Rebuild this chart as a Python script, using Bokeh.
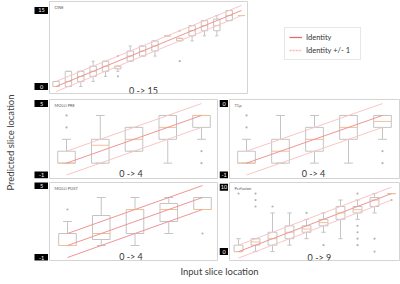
import math
from bokeh.plotting import figure
from bokeh.models import Range1d, Label, Legend, LegendItem, ColumnDataSource
from bokeh.core.properties import value
from bokeh.layouts import row, column
from bokeh.embed import file_html
from bokeh.resources import INLINE

# ---------------- data ----------------
# CINE: input slice 0 -> 15
CINE_Q1 = [0, 0, 1, 2, 3, 3.5, 5, 6, 7, 10, 9, 10, 11, 11, 13, 14]
CINE_MED = [0, 1, 2, 3, 4, 4, 6, 7, 8, 10, 9.5, 11, 12, 12, 14, 14]
CINE_Q3 = [1, 3, 3, 4, 5, 4, 7, 8, 9, 10, 9.5, 12, 13, 13.3, 15, 14]
CINE_LO = [0, 0, 0, 1, 2, 3, 5, 6, 6, 10, 9, 9, 10, 10, 13, 14]
CINE_HI = [1, 3, 3, 5, 5, 4, 8, 8, 9, 10, 9.5, 12, 13, 14, 15, 14]
CINE_OUT_X = [5, 5, 10, 10]
CINE_OUT_Y = [2, 6, 5, 11]

# MOLLI PRE: 0 -> 4
PRE_Q1 = [0, 0, 1, 2, 3]
PRE_MED = [0, 1.5, 2, 3, 4]
PRE_Q3 = [1, 2, 3, 4, 4]
PRE_LO = [0, 0, 1, 0, 2]
PRE_HI = [2, 4, 3, 4, 4]
PRE_OUT_X = [0, 0, 4, 4]
PRE_OUT_Y = [3, 4, 1, 0]

# T1rho: 0 -> 4
T1P_Q1 = [0, 0, 1, 2, 3]
T1P_MED = [0, 1, 2, 3, 3.5]
T1P_Q3 = [1, 2, 3, 4, 4]
T1P_LO = [0, 0, 0, 0, 2]
T1P_HI = [2, 4, 4, 4, 4]
T1P_OUT_X = [0, 0, 4, 4]
T1P_OUT_Y = [3, 4, 1, 0]

# MOLLI POST: 0 -> 4
POST_Q1 = [0, 0.5, 1, 2, 3]
POST_MED = [0, 1, 3, 3, 3]
POST_Q3 = [1, 2.5, 3, 3.5, 4]
POST_LO = [0, 0, 0, 1, 3]
POST_HI = [2, 4, 4, 4, 4]
POST_OUT_X = [0, 4]
POST_OUT_Y = [3, 1]

# Perfusion: 0 -> 9
PERF_Q1 = [0, 1, 1, 2, 3, 4, 5, 6, 7, 9]
PERF_MED = [0, 1.5, 2, 3, 3.5, 4.5, 6, 6.5, 8, 9]
PERF_Q3 = [1, 2, 3, 4, 4, 5, 7, 7, 8.4, 9]
PERF_LO = [0, 0, 0, 1, 2, 3, 2, 5, 6, 9]
PERF_HI = [2, 2, 6, 6, 5, 6, 8, 8, 9, 9]
PERF_OUT_X = [0, 1, 1, 1, 2, 4, 5, 7, 7, 7, 7, 7, 8, 8, 9]
PERF_OUT_Y = [9, 7, 8, 9, 7, 6, 1, 9, 4, 3, 2, 1, 2, 0, 8]

# black value tags at the left of each panel (value, text)
CINE_TAG_Y = [15, 0]
CINE_TAG_TXT = ["15", "0"]
PRE_TAG_Y = [5, -1]
PRE_TAG_TXT = ["5", "-1"]
T1P_TAG_Y = [5, -1]
T1P_TAG_TXT = ["0", "-1"]
POST_TAG_Y = [5, -1]
POST_TAG_TXT = ["5", "-1"]
PERF_TAG_Y = [10, 0]
PERF_TAG_TXT = ["10", "0"]

TITLES = ["CINE", "MOLLI PRE", "T1ρ", "MOLLI POST", "Perfusion"]
RANGE_TEXT = ["0 -> 15", "0 -> 4", "0 -> 4", "0 -> 4", "0 -> 9"]
LEGEND_LABELS = ["Identity", "Identity +/- 1"]
Y_TITLE = "Predicted slice location"
X_TITLE = "Input slice location"

# ---------------- style ----------------
FONT = "Lato"
BOX = "#c4c4c4"
MED = "#f5bf95"
OUT = "#b4b4b4"
ID_C = "#f09494"
PM_C = "#f8c6c6"
FRAME = "#d4d4d4"


def bare(width, height, bl, br, bt, bb, xr, yr):
    p = figure(width=width, height=height, x_range=xr, y_range=yr,
               output_backend="svg", toolbar_location=None,
               x_axis_location=None, y_axis_location=None,
               min_border_left=bl, min_border_right=br,
               min_border_top=bt, min_border_bottom=bb)
    for g in p.grid:
        g.visible = False
    p.outline_line_color = None
    p.background_fill_color = "white"
    p.border_fill_color = "white"
    return p


def panel(width, height, bl, br, bt, bb, xr, yr):
    p = bare(width, height, bl, br, bt, bb, Range1d(*xr), yr)
    p.outline_line_color = FRAME
    p.outline_line_width = 1
    return p


def boxes(p, q1, med, q3, lo, hi, ox, oy, w=0.52, cap=0.26):
    xs = list(range(len(q1)))
    src = ColumnDataSource(dict(
        x=xs, q1=q1, q3=q3, med=med, lo=lo, hi=hi,
        xl=[x - w / 2 for x in xs], xr=[x + w / 2 for x in xs],
        cl=[x - cap / 2 for x in xs], cr=[x + cap / 2 for x in xs]))
    p.segment(x0="x", y0="q3", x1="x", y1="hi", source=src, line_color=BOX, line_width=1)
    p.segment(x0="x", y0="lo", x1="x", y1="q1", source=src, line_color=BOX, line_width=1)
    p.segment(x0="cl", y0="hi", x1="cr", y1="hi", source=src, line_color=BOX, line_width=1)
    p.segment(x0="cl", y0="lo", x1="cr", y1="lo", source=src, line_color=BOX, line_width=1)
    p.vbar(x="x", width=w, top="q3", bottom="q1", source=src,
           fill_color=None, line_color=BOX, line_width=1)
    p.segment(x0="xl", y0="med", x1="xr", y1="med", source=src, line_color=MED, line_width=1)
    p.scatter(ox, oy, size=2.2, color=OUT, line_color=None)


def identity(p, n, c_id=ID_C, c_pm=PM_C):
    xs = [0, n - 1]
    p.line(xs, [v + 1 for v in xs], line_color=c_pm, line_width=1)
    p.line(xs, [v - 1 for v in xs], line_color=c_pm, line_width=1)
    p.line(xs, xs, line_color=c_id, line_width=1)


def tagfig(width, height, bt, bb, yr, ys, texts, cx, bw):
    t = bare(width, height, 0, 0, bt, bb, Range1d(0, width), yr)
    src = ColumnDataSource(dict(x=[cx] * len(ys), y=ys, t=texts))
    t.rect(x="x", y="y", width=bw, height=7, width_units="screen", height_units="screen",
           source=src, fill_color="black", line_color=None)
    t.text(x="x", y="y", text="t", source=src, text_align="center", text_baseline="middle",
           text_font=value(FONT), text_font_size="5.5px", text_color="white")
    return t


def title(p, text):
    p.add_layout(Label(x=p.x_range.start, y=p.y_range.end, x_offset=5, y_offset=-3,
                       text=text, text_align="left", text_baseline="top",
                       text_font=FONT, text_font_size="4px", text_color="#555555"))


def rng(p, text, x, y):
    p.add_layout(Label(x=x, y=y, text=text, text_align="center", text_baseline="middle",
                       text_font=FONT, text_font_size="9px", text_color="#333333"))


# ---- panel 1: CINE ----
y1 = Range1d(-1.38, 16.77)
p1 = panel(200, 97, 1, 1, 1, 4, (-0.53, 15.48), y1)
boxes(p1, CINE_Q1, CINE_MED, CINE_Q3, CINE_LO, CINE_HI, CINE_OUT_X, CINE_OUT_Y)
identity(p1, len(CINE_Q1))
title(p1, TITLES[0])
rng(p1, RANGE_TEXT[0], 7.07, -0.69)
t1 = tagfig(28, 97, 1, 4, y1, CINE_TAG_Y, CINE_TAG_TXT, 21, 14)

# ---- legend figure ----
pl = bare(152, 97, 0, 0, 0, 0, Range1d(0, 1), Range1d(0, 1))
r_id = pl.line(x=[-5, -4], y=[-5, -4], line_color="#e86a6a", line_width=1.3)
r_pm = pl.line(x=[-5, -4], y=[-5, -4], line_color="#f7b9b9", line_width=1.3, line_dash="2 1")
leg = Legend(items=[LegendItem(label=LEGEND_LABELS[0], renderers=[r_id]),
                    LegendItem(label=LEGEND_LABELS[1], renderers=[r_pm])],
             location=(36, 33), orientation="vertical",
             label_text_font=FONT, label_text_font_size="7.5px", label_text_color="#333333",
             glyph_width=13, glyph_height=10, label_height=10, label_width=50,
             label_standoff=4, spacing=3, padding=4, margin=0,
             border_line_color="#cfcfcf", border_line_width=1,
             background_fill_color="white", background_fill_alpha=1)
pl.add_layout(leg)

# ---- panel 2: MOLLI PRE ----
y2 = Range1d(-1.29, 5.34)
p2 = panel(171, 83, 1, 2, 2, 2, (-0.504, 4.474), y2)
boxes(p2, PRE_Q1, PRE_MED, PRE_Q3, PRE_LO, PRE_HI, PRE_OUT_X, PRE_OUT_Y)
identity(p2, len(PRE_Q1))
title(p2, TITLES[1])
rng(p2, RANGE_TEXT[1], 1.91, -0.83)
t2 = tagfig(28, 83, 2, 2, y2, PRE_TAG_Y, PRE_TAG_TXT, 21, 14)

# ---- panel 3: T1rho ----
y3 = Range1d(-1.29, 5.34)
p3 = panel(172, 83, 1, 1, 2, 2, (-0.5, 4.5), y3)
boxes(p3, T1P_Q1, T1P_MED, T1P_Q3, T1P_LO, T1P_HI, T1P_OUT_X, T1P_OUT_Y)
identity(p3, len(T1P_Q1))
title(p3, TITLES[2])
rng(p3, RANGE_TEXT[2], 1.97, -0.87)
t3 = tagfig(9, 83, 2, 2, y3, T1P_TAG_Y, T1P_TAG_TXT, 4.5, 9)

# ---- panel 4: MOLLI POST ----
y4 = Range1d(-1.25, 5.25)
p4 = panel(171, 82, 1, 2, 2, 2, (-0.533, 4.444), y4)
boxes(p4, POST_Q1, POST_MED, POST_Q3, POST_LO, POST_HI, POST_OUT_X, POST_OUT_Y)
identity(p4, len(POST_Q1), c_id=ID_C, c_pm=ID_C)
title(p4, TITLES[3])
rng(p4, RANGE_TEXT[3], 1.88, -0.92)
t4 = tagfig(28, 82, 2, 2, y4, POST_TAG_Y, POST_TAG_TXT, 21, 14)

# ---- panel 5: Perfusion ----
y5 = Range1d(-1.38, 10.72)
p5 = panel(172, 82, 1, 1, 1, 2, (-0.53, 9.47), y5)
boxes(p5, PERF_Q1, PERF_MED, PERF_Q3, PERF_LO, PERF_HI, PERF_OUT_X, PERF_OUT_Y)
identity(p5, len(PERF_Q1))
title(p5, TITLES[4])
rng(p5, RANGE_TEXT[4], 4.76, -0.92)
t5 = tagfig(9, 82, 1, 2, y5, PERF_TAG_Y, PERF_TAG_TXT, 4.5, 9)

# ---- outer axis titles ----
py_ = bare(20, 284, 0, 0, 0, 0, Range1d(0, 20), Range1d(0, 284))
py_.add_layout(Label(x=9.5, y=142, text=Y_TITLE, angle=math.pi / 2,
                     text_align="center", text_baseline="middle",
                     text_font=FONT, text_font_size="9.5px", text_color="#404040"))

px_ = bare(380, 22, 0, 0, 0, 0, Range1d(20, 400), Range1d(0, 22))
px_.add_layout(Label(x=219, y=13, text=X_TITLE,
                     text_align="center", text_baseline="middle",
                     text_font=FONT, text_font_size="9.5px", text_color="#404040"))

layout = row(py_, column(row(t1, p1, pl), row(t2, p2, t3, p3), row(t4, p4, t5, p5), px_))

open("out.html", "w").write(file_html(layout, INLINE))
